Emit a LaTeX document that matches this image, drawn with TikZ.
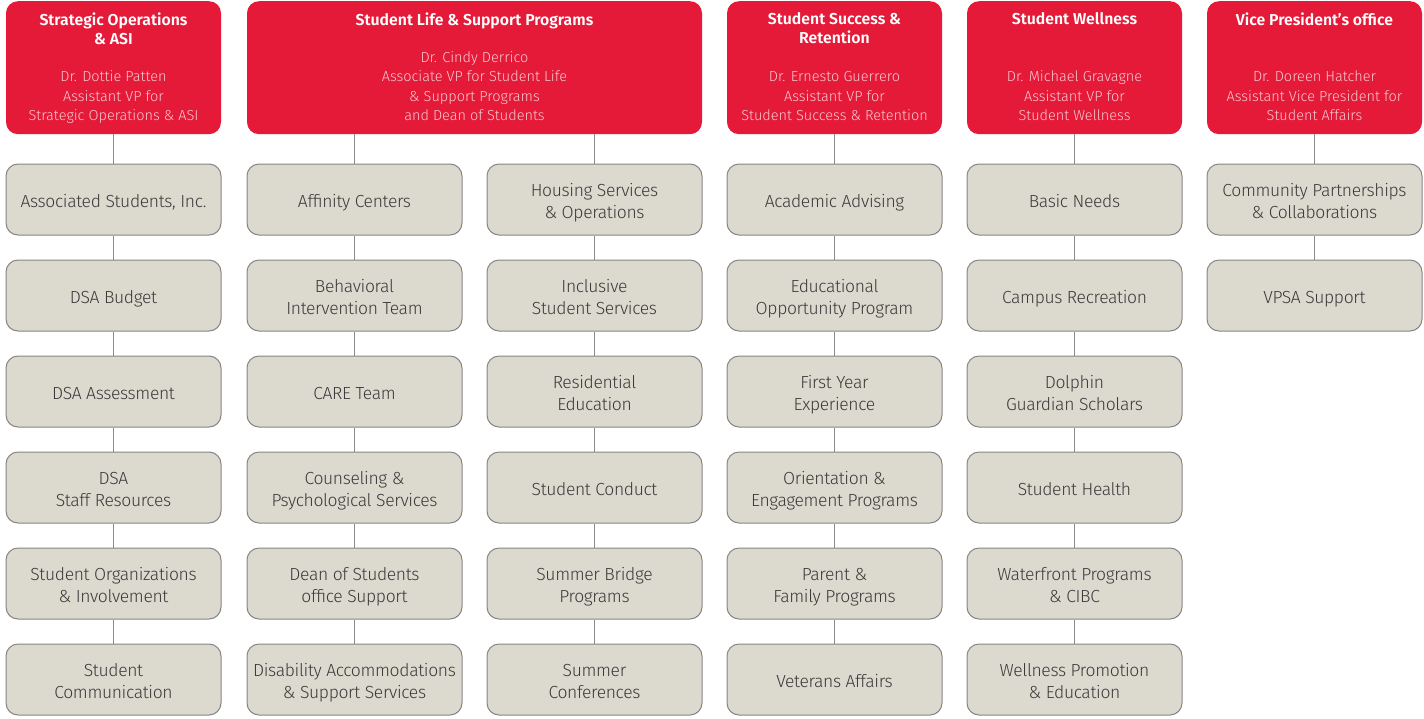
\documentclass[tikz,border=0pt]{standalone}
\usepackage{fontspec}
\setmainfont{Fira Sans Light}[BoldFont={Fira Sans SemiBold}]
\newfontfamily\boxfont{Fira Sans Light}[LetterSpace=-2]
\definecolor{hdr}{HTML}{E41A38}
\definecolor{boxfill}{HTML}{DCD9CF}
\definecolor{boxline}{HTML}{858585}
\definecolor{boxtext}{HTML}{3A3A3A}
\definecolor{linegray}{HTML}{8C8C8C}
\definecolor{subtext}{HTML}{F9C9D1}
\newcommand\bxt[1]{\raisebox{-3.5pt}[\height][\depth]{\begin{tabular}{@{}c@{}}#1\end{tabular}}}
\newcommand\sbt[1]{\begin{tabular}{@{}c@{}}#1\end{tabular}}
\begin{document}
\begin{tikzpicture}[x=1pt,y=-1pt,
  hbox/.style={fill=hdr, rounded corners=12pt, minimum height=133pt, anchor=north, inner sep=0pt},
  htitle/.style={anchor=north, align=center, text=white, inner sep=0pt, font=\bfseries\fontsize{15.8}{19}\selectfont},
  hsub/.style={anchor=south, text=subtext, inner sep=0pt, font=\fontsize{14.5}{19.3}\selectfont},
  ubox/.style={draw=boxline, fill=boxfill, rounded corners=12pt, minimum width=215pt, minimum height=71pt, line width=1pt, text=boxtext, inner sep=0pt, font=\boxfont\fontsize{17.5}{22}\selectfont},
  link/.style={draw=linegray, line width=1.5pt}]
\useasboundingbox (0,0) rectangle (1424,718);

% headers
\node[hbox, minimum width=215pt] (h1) at (113.5,1) {};
\node[hbox, minimum width=455pt] (h2) at (474.5,1) {};
\node[hbox, minimum width=215pt] (h3) at (834.5,1) {};
\node[hbox, minimum width=215pt] (h4) at (1074.5,1) {};
\node[hbox, minimum width=215pt] (h5) at (1314.5,1) {};

\node[htitle] (t1) at (113.5,12.5) {Strategic Operations\\\& ASI};
\node[htitle] (t2) at (474.5,12.5) {Student Life \& Support Programs};
\node[htitle] (t3) at (834.5,12.5) {Student Success \&\\Retention};
\node[htitle] (t4) at (1074.5,12.5) {Student Wellness};
\node[htitle] (t5) at (1314.5,12.5) {Vice President’s office};

\node[hsub] (s1) at (113.5,126.5) {\sbt{Dr. Dottie Patten\\Assistant VP for\\Strategic Operations \& ASI}};
\node[hsub] (s2) at (474.5,126.5) {\sbt{Dr. Cindy Derrico\\Associate VP for Student Life\\\& Support Programs\\and Dean of Students}};
\node[hsub] (s3) at (834.5,126.5) {\sbt{Dr. Ernesto Guerrero\\Assistant VP for\\Student Success \& Retention}};
\node[hsub] (s4) at (1074.5,126.5) {\sbt{Dr. Michael Gravagne\\Assistant VP for\\Student Wellness}};
\node[hsub] (s5) at (1314.5,126.5) {\sbt{Dr. Doreen Hatcher\\Assistant Vice President for\\Student Affairs}};

% column 1
\node[ubox] (a1) at (113.5,199.5) {\bxt{Associated Students, Inc.}};
\node[ubox] (a2) at (113.5,295.5) {\bxt{DSA Budget}};
\node[ubox] (a3) at (113.5,391.5) {\bxt{DSA Assessment}};
\node[ubox] (a4) at (113.5,487.5) {\bxt{DSA\\Staff Resources}};
\node[ubox] (a5) at (113.5,583.5) {\bxt{Student Organizations\\\& Involvement}};
\node[ubox] (a6) at (113.5,679.5) {\bxt{Student\\Communication}};
% column 2
\node[ubox] (b1) at (354.5,199.5) {\bxt{Affinity Centers}};
\node[ubox] (b2) at (354.5,295.5) {\bxt{Behavioral\\Intervention Team}};
\node[ubox] (b3) at (354.5,391.5) {\bxt{CARE Team}};
\node[ubox] (b4) at (354.5,487.5) {\bxt{Counseling \&\\Psychological Services}};
\node[ubox] (b5) at (354.5,583.5) {\bxt{Dean of Students\\office Support}};
\node[ubox] (b6) at (354.5,679.5) {\bxt{Disability Accommodations\\\& Support Services}};
% column 3
\node[ubox] (c1) at (594.5,199.5) {\bxt{Housing Services\\\& Operations}};
\node[ubox] (c2) at (594.5,295.5) {\bxt{Inclusive\\Student Services}};
\node[ubox] (c3) at (594.5,391.5) {\bxt{Residential\\Education}};
\node[ubox] (c4) at (594.5,487.5) {\bxt{Student Conduct}};
\node[ubox] (c5) at (594.5,583.5) {\bxt{Summer Bridge\\Programs}};
\node[ubox] (c6) at (594.5,679.5) {\bxt{Summer\\Conferences}};
% column 4
\node[ubox] (d1) at (834.5,199.5) {\bxt{Academic Advising}};
\node[ubox] (d2) at (834.5,295.5) {\bxt{Educational\\Opportunity Program}};
\node[ubox] (d3) at (834.5,391.5) {\bxt{First Year\\Experience}};
\node[ubox] (d4) at (834.5,487.5) {\bxt{Orientation \&\\Engagement Programs}};
\node[ubox] (d5) at (834.5,583.5) {\bxt{Parent \&\\Family Programs}};
\node[ubox] (d6) at (834.5,679.5) {\bxt{Veterans Affairs}};
% column 5
\node[ubox] (e1) at (1074.5,199.5) {\bxt{Basic Needs}};
\node[ubox] (e2) at (1074.5,295.5) {\bxt{Campus Recreation}};
\node[ubox] (e3) at (1074.5,391.5) {\bxt{Dolphin\\Guardian Scholars}};
\node[ubox] (e4) at (1074.5,487.5) {\bxt{Student Health}};
\node[ubox] (e5) at (1074.5,583.5) {\bxt{Waterfront Programs\\\& CIBC}};
\node[ubox] (e6) at (1074.5,679.5) {\bxt{Wellness Promotion\\\& Education}};
% column 6
\node[ubox] (f1) at (1314.5,199.5) {\bxt{Community Partnerships\\\& Collaborations}};
\node[ubox] (f2) at (1314.5,295.5) {\bxt{VPSA Support}};

% connectors
\draw[link] (h1.south) -- (a1.north);
\draw[link] (h2.south -| b1.north) -- (b1.north);
\draw[link] (h2.south -| c1.north) -- (c1.north);
\draw[link] (h3.south) -- (d1.north);
\draw[link] (h4.south) -- (e1.north);
\draw[link] (h5.south) -- (f1.north);
\foreach \col in {a,b,c,d,e}{
  \foreach \r [evaluate=\r as \n using int(\r+1)] in {1,...,5}{
    \draw[link] (\col\r.south) -- (\col\n.north);
  }
}
\draw[link] (f1.south) -- (f2.north);
\end{tikzpicture}
\end{document}
